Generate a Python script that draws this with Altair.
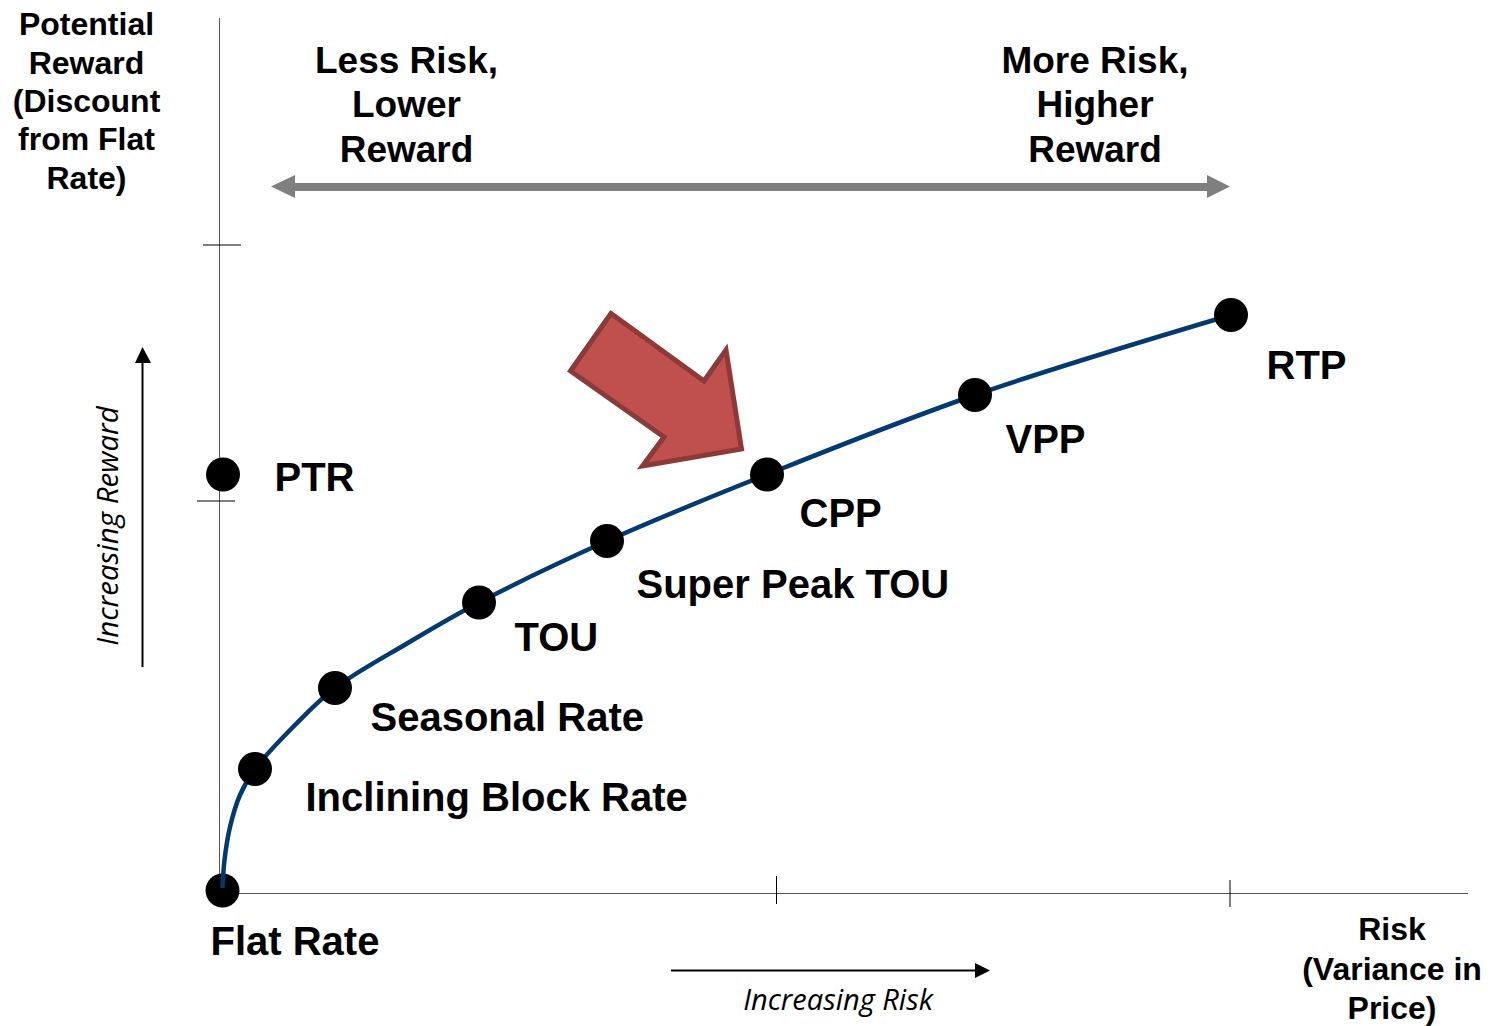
import altair as alt
import pandas as pd

# Rate points
point_names = ["Flat Rate", "Inclining Block Rate", "Seasonal Rate", "TOU", "Super Peak TOU", "CPP", "VPP", "RTP"]
point_x = [222.5, 255, 335, 479, 607, 767, 975, 1231]
point_y = [890.5, 769, 688, 602.5, 541, 474.5, 395, 315]
ptr_x = [223]
ptr_y = [474.5]

# Curve
curve_x = [222.5, 224.5, 230, 240, 255, 295, 335, 407, 479, 607, 767, 975, 1231]
curve_y = [888, 860, 827, 795, 769, 725, 688, 643.5, 602.5, 541, 474.5, 395, 315]

# Labels
label_text = ["PTR", "Flat Rate", "Inclining Block Rate", "Seasonal Rate", "TOU", "Super Peak TOU", "CPP", "VPP", "RTP"]
label_x = [274.5, 210.5, 305.5, 370.5, 514.5, 636.5, 799.5, 1005.5, 1266.5]
label_y = [479, 943, 799, 719, 639, 586, 514.5, 441, 367]

reward_text = ["Potential", "Reward", "(Discount", "from Flat", "Rate)"]
reward_y = [25, 64, 102, 140, 179]
reward_x = [86.5] * 5

risk_text = ["Risk", "(Variance in", "Price)"]
risk_y = [930, 970, 1009]
risk_x = [1392] * 3

less_text = ["Less Risk,", "Lower", "Reward"]
more_text = ["More Risk,", "Higher", "Reward"]
band_y = [62, 106, 150.5]
less_x = [406.5] * 3
more_x = [1095] * 3

# Polygons
red_x = [611, 570.5, 664, 642.5, 741.5, 726, 704, 611]
red_y = [313.5, 371, 437, 466, 449, 350, 381, 313.5]
grey_left_x = [271, 295, 295, 271]
grey_left_y = [186.5, 175, 198, 186.5]
grey_right_x = [1230, 1207, 1207, 1230]
grey_right_y = [186.5, 175, 198, 186.5]
head_up_x = [142.5, 135, 151, 142.5]
head_up_y = [347, 363, 363, 347]
head_right_x = [990, 975, 975, 990]
head_right_y = [970.5, 963, 978, 970.5]

X = alt.Scale(domain=[8, 1484], nice=False, zero=False)
Y = alt.Scale(domain=[1026, 8], nice=False, zero=False)
NOAX = None


def xe(name="x"):
    return alt.X(f"{name}:Q", scale=X, axis=NOAX)


def ye(name="y"):
    return alt.Y(f"{name}:Q", scale=Y, axis=NOAX)


def rule(x1, y1, x2, y2, color, width):
    df = pd.DataFrame({"x": [x1], "y": [y1], "x2": [x2], "y2": [y2]})
    return alt.Chart(df).mark_rule(color=color, strokeWidth=width).encode(
        x=xe(), y=ye(), x2="x2:Q", y2="y2:Q"
    )


def poly(xs, ys, fill, stroke=None, width=0):
    df = pd.DataFrame({"x": xs, "y": ys, "i": range(len(xs))})
    kw = dict(fill=fill, strokeWidth=width, strokeJoin="miter", strokeMiterLimit=10, interpolate="linear-closed")
    kw["stroke"] = stroke if stroke else fill
    return alt.Chart(df).mark_line(**kw).encode(
        x=xe(), y=ye(), order="i:Q"
    )


def texts(ts, xs, ys, size, align="center", font="Liberation Sans", weight="bold", style="normal", angle=0, color="#000000"):
    df = pd.DataFrame({"t": ts, "x": xs, "y": ys})
    kw = dict(font=font, fontSize=size, fontWeight=weight, fontStyle=style, align=align, baseline="middle", color=color)
    if angle:
        kw["angle"] = angle
    return alt.Chart(df).mark_text(**kw).encode(x=xe(), y=ye(), text="t:N")


def dots(xs, ys):
    df = pd.DataFrame({"x": xs, "y": ys})
    return alt.Chart(df).mark_circle(size=1156, color="#000000", opacity=1).encode(x=xe(), y=ye())


curve = alt.Chart(pd.DataFrame({"x": curve_x, "y": curve_y, "i": range(len(curve_x))})).mark_line(
    color="#003A70", strokeWidth=4.5, interpolate="catmull-rom"
).encode(x=xe(), y=ye(), order="i:Q")

layers = [
    rule(219.5, 18, 219.5, 893, "#555555", 1),
    rule(219.5, 893.5, 1468, 893.5, "#555555", 1.2),
    rule(203, 245, 241, 245, "#000000", 1),
    rule(197, 501, 235, 501, "#000000", 1),
    rule(776.5, 876, 776.5, 904, "#000000", 1),
    rule(1230, 880, 1230, 907, "#000000", 1),
    rule(142.5, 360, 142.5, 667, "#000000", 2),
    rule(671, 970.5, 977, 970.5, "#000000", 2),
    rule(293, 187, 1209, 187, "#7F7F7F", 8),
    poly(grey_left_x, grey_left_y, "#7F7F7F"),
    poly(grey_right_x, grey_right_y, "#7F7F7F"),
    poly(head_up_x, head_up_y, "#000000"),
    poly(head_right_x, head_right_y, "#000000"),
    poly(red_x, red_y, "#C0504D", "#8C3A38", 5),
    dots(point_x[:1], point_y[:1]),
    curve,
    dots(point_x[1:], point_y[1:]),
    dots(ptr_x, ptr_y),
    texts(label_text, label_x, label_y, 40, align="left"),
    texts(reward_text, reward_x, reward_y, 32),
    texts(risk_text, risk_x, risk_y, 32),
    texts(less_text, less_x, band_y, 37),
    texts(more_text, more_x, band_y, 37),
    texts(["Increasing Risk"], [838], [1001], 29, font="Open Sans", weight="normal", style="italic"),
    texts(["Increasing Reward"], [109], [526], 29.5, font="Open Sans", weight="normal", style="italic", angle=270),
]

chart = alt.layer(*layers).properties(
    width=1476, height=1018, padding=0,
    autosize=alt.AutoSizeParams(type="none"),
).configure_view(stroke=None)

chart.save("out.html", embed_options={"renderer": "svg", "actions": False})
